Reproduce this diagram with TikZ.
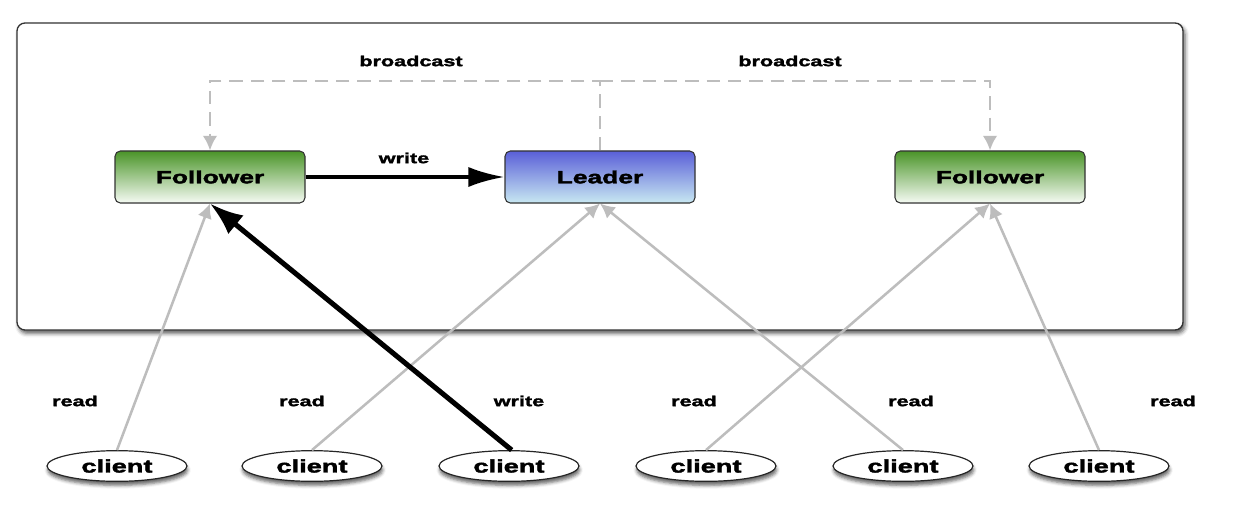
\documentclass[tikz,border=0pt]{standalone}
\usepackage{fontspec}
\usepackage{xcolor}
\usepackage{tikz}
\usetikzlibrary{arrows.meta,calc,positioning,shadows.blur}
\usetikzlibrary{shapes.geometric}
\newfontfamily\heavyfont{Liberation Sans}[FakeStretch=1.5,FakeBold=2.2]
\definecolor{fgreen}{HTML}{4A9428}
\definecolor{fwhite}{HTML}{F6FBF4}
\definecolor{lblue}{HTML}{5A5FD8}
\definecolor{lpale}{HTML}{C8E8F2}
\definecolor{conn}{HTML}{BDBDBD}

\begin{document}
\begin{tikzpicture}[
    x=0.75pt, y=-0.75pt,
    frame/.style={draw=black!80, line width=1pt, rounded corners=6pt, fill=white,
        blur shadow={shadow xshift=1.5pt, shadow yshift=-2.5pt, shadow blur radius=3pt, shadow opacity=65}},
    srv/.style={rectangle, draw=black!80, line width=0.8pt, rounded corners=4pt,
        minimum width=142.5pt, minimum height=39pt, inner sep=0,
        font=\heavyfont\bfseries\fontsize{13.2}{15}\selectfont},
    follower/.style={srv, top color=fgreen, bottom color=fwhite},
    leader/.style={srv, top color=lblue, bottom color=lpale},
    client/.style={ellipse, draw=black!85, line width=0.9pt, fill=white, inner sep=0,
        minimum width=105pt, minimum height=23pt,
        font=\heavyfont\bfseries\fontsize{13.6}{15}\selectfont,
        blur shadow={shadow xshift=0.5pt, shadow yshift=-3pt, shadow blur radius=2.5pt, shadow opacity=60}},
    lbl/.style={inner sep=0, font=\heavyfont\bfseries\fontsize{10.8}{12}\selectfont},
    bcast/.style={draw=conn, line width=2pt, dash pattern=on 10pt off 6pt,
        -{Latex[length=11pt,width=11pt]}},
    rd/.style={draw=conn, line width=1.9pt, -{Latex[length=11pt,width=11pt]}},
    wr/.style={draw=black, line width=2.8pt, -{Latex[length=27pt,width=15pt]}},
    wrc/.style={draw=black, line width=3.8pt, -{Latex[length=25pt,width=18pt]}}]
\useasboundingbox (0,0) rectangle (1244,506);

% cluster
\draw[frame] (17,23) rectangle (1183,330);

\node[follower] (F1) at (210,177) {Follower};
\node[leader]   (L)  at (600,177) {Leader};
\node[follower] (F2) at (990,177) {Follower};

% broadcast
\coordinate (bc) at (600,81);
\draw[bcast] (L.north) -- (bc) -| (F1.north);
\draw[bcast] (bc) -| (F2.north);
\node[lbl] (B1) at (411,61) {broadcast};
\node[lbl] (B2) at (790,61) {broadcast};

\draw[wr] (F1.east) -- (L.west);
\node[lbl] (W0) at (404,158) {write};

% clients
\node[client] (C1) at (117,466) {client};
\node[client] (C2) at (312,466) {client};
\node[client] (C3) at (509,466) {client};
\node[client] (C4) at (706,466) {client};
\node[client] (C5) at (903,466) {client};
\node[client] (C6) at (1099,466) {client};

\node[lbl] (R1) at (75,401) {read};
\node[lbl] (R2) at (302,401) {read};
\node[lbl] (W1) at (519,401) {write};
\node[lbl] (R4) at (694,401) {read};
\node[lbl] (R5) at (911,401) {read};
\node[lbl] (R6) at (1173,401) {read};

\draw[rd] (C1.north) -- (F1.south);
\draw[rd] (C2.north) -- (L.south);
\draw[rd] (C4.north) -- (F2.south);
\draw[rd] (C5.north) -- (L.south);
\draw[rd] (C6.north) -- (F2.south);
\draw[wrc] ([xshift=2pt]C3.north) -- (F1.south);

\end{tikzpicture}
\end{document}
